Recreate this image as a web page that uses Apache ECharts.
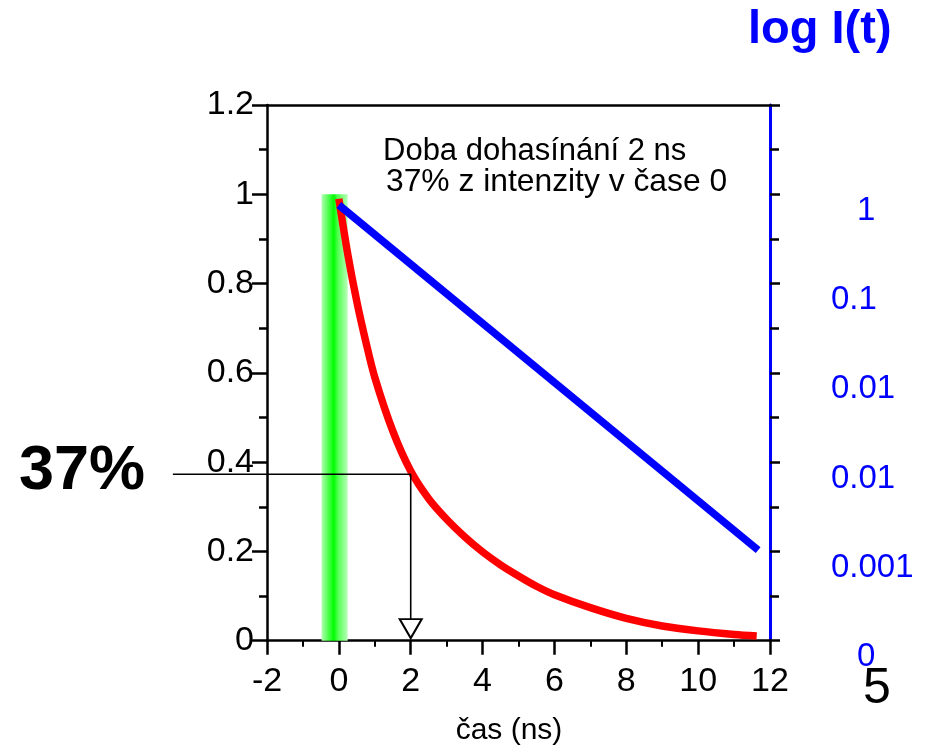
<!DOCTYPE html>
<html>
<head>
<meta charset="utf-8">
<script src="https://cdn.jsdelivr.net/npm/echarts@6/dist/echarts.min.js"></script>
<style>
  html, body { margin: 0; padding: 0; background: #fff; }
  #chart { width: 930px; height: 746px; }
</style>
</head>
<body>
<div id="chart"></div>
<script>
// ---- data ----
const redT = [0, 0.25, 0.5, 0.75, 1.0, 1.5, 2.0, 2.5, 3.0, 3.5, 4.0, 4.5, 5.0, 5.5, 6.0, 7.0, 8.0, 9.0, 10.0, 11.0, 11.63];
const redV = [0.99, 0.865, 0.76, 0.67, 0.59, 0.47, 0.38, 0.318, 0.272, 0.233, 0.199, 0.17, 0.145, 0.122, 0.103, 0.074, 0.05, 0.033, 0.022, 0.014, 0.0105];
const blueT = [0, 11.67];
const blueV = [0.976, 0.203];
const guideX = [-4.62, 2, 2];
const guideY = [0.373, 0.373, 0.048];
const arrowHead = [2, 0.027];
const bandX = [-0.48, 0.245];
const bandY = [0, 1];
const rightTickLabels = ['0', '0.001', '0.01', '0.01', '0.1', '1', ''];
const xAxisName = 'čas (ns)';
const noteLines = ['Doba dohasínání 2 ns', '37% z intenzity v čase 0'];
const bigLabel = '37%';
const rightTitle = 'log I(t)';
const pageNumber = '5';

const FF = '"Liberation Sans", Arial, sans-serif';
const W = 930, GL = 267, GR = 160, GT = 105, GB = 105.3;
const X_MIN = -2, X_MAX = 12;
// a second, invisible grid spanning from the page's left edge so the guide can leave the plot
const X_MIN_WIDE = X_MIN - GL * (X_MAX - X_MIN) / (W - GL - GR);

const chart = echarts.init(document.getElementById('chart'), null, { renderer: 'canvas' });
const pairs = (xs, ys) => xs.map((x, i) => [x, ys[i]]);

const option = {
  animation: false,
  backgroundColor: '#ffffff',
  grid: [
    { left: GL, right: GR, top: GT, bottom: GB, containLabel: false, outerBoundsMode: 'none' },
    { left: 0, right: GR, top: GT, bottom: GB, containLabel: false, outerBoundsMode: 'none' }
  ],
  xAxis: [
    {
      gridIndex: 0, type: 'value', min: X_MIN, max: X_MAX, interval: 2, position: 'bottom',
      axisLine: { show: true, onZero: false, lineStyle: { color: '#000', width: 2.5 } },
      axisTick: { show: true, length: 14, lineStyle: { color: '#000', width: 2.5 } },
      minorTick: { show: true, splitNumber: 2, length: 6, lineStyle: { color: '#000', width: 2 } },
      splitLine: { show: false },
      axisLabel: { margin: 24, fontSize: 34, color: '#000', fontFamily: FF },
      name: xAxisName, nameLocation: 'middle', nameGap: 75,
      nameTextStyle: { fontSize: 30, color: '#000', fontFamily: FF, padding: [0, 19, 0, 0] }
    },
    {
      gridIndex: 0, type: 'value', min: X_MIN, max: X_MAX, position: 'top',
      axisLine: { show: true, onZero: false, lineStyle: { color: '#000', width: 2.5 } },
      axisTick: { show: false }, axisLabel: { show: false }, splitLine: { show: false }
    },
    {
      gridIndex: 1, type: 'value', min: X_MIN_WIDE, max: X_MAX, show: false
    }
  ],
  yAxis: [
    {
      gridIndex: 0, type: 'value', min: 0, max: 1.2, interval: 0.2, position: 'left',
      axisLine: { show: true, onZero: false, lineStyle: { color: '#000', width: 2.5 } },
      axisTick: { show: true, length: 15, lineStyle: { color: '#000', width: 2.5 } },
      minorTick: { show: true, splitNumber: 2, length: 8, lineStyle: { color: '#000', width: 2.5 } },
      splitLine: { show: false },
      axisLabel: { margin: 13, fontSize: 34, color: '#000', fontFamily: FF }
    },
    {
      gridIndex: 0, type: 'value', min: 0, max: 1.2, interval: 0.2, position: 'right',
      axisLine: { show: true, onZero: false, lineStyle: { color: '#0000ff', width: 3 } },
      axisTick: { show: true, length: 10, lineStyle: { color: '#000', width: 2.5 } },
      minorTick: { show: true, splitNumber: 2, length: 9, lineStyle: { color: '#000', width: 2.5 } },
      splitLine: { show: false },
      axisLabel: {
        margin: 61, align: 'left', padding: [33, 0, 0, 0],
        formatter: function (v) {
          const s = rightTickLabels[Math.round(v / 0.2)] || '';
          if (!s) return '';
          return (s.length === 1 ? '{p|' : '{n|') + s + '}';
        },
        rich: {
          n: { color: '#0000ff', fontSize: 33, fontFamily: FF },
          p: { color: '#0000ff', fontSize: 33, fontFamily: FF, padding: [0, 0, 0, 26] }
        }
      }
    },
    {
      gridIndex: 1, type: 'value', min: 0, max: 1.2, show: false
    }
  ],
  series: [
    {
      name: 'I(t)', type: 'line', xAxisIndex: 0, yAxisIndex: 0,
      data: pairs(redT, redV), symbol: 'none', smooth: 0.3,
      lineStyle: { color: '#ff0000', width: 7.5 }, z: 3,
      markArea: {
        silent: true,
        itemStyle: {
          color: new echarts.graphic.LinearGradient(0, 0, 1, 0, [
            { offset: 0, color: '#b0ffb0' },
            { offset: 0.3, color: '#40ff40' },
            { offset: 0.47, color: '#00ff00' },
            { offset: 0.62, color: '#50ff50' },
            { offset: 1, color: '#b8ffb8' }
          ])
        },
        data: [[{ coord: [bandX[0], bandY[0]] }, { coord: [bandX[1], bandY[1]] }]]
      }
    },
    {
      name: 'log I(t)', type: 'line', xAxisIndex: 0, yAxisIndex: 1,
      data: pairs(blueT, blueV), symbol: 'none',
      lineStyle: { color: '#0000ff', width: 7.5 }, z: 3
    },
    {
      name: 'guide', type: 'line', xAxisIndex: 2, yAxisIndex: 2,
      data: pairs(guideX, guideY), symbol: 'none', clip: false, silent: true,
      lineStyle: { color: '#000', width: 1.6 }, z: 4
    },
    {
      name: 'arrow', type: 'scatter', xAxisIndex: 0, yAxisIndex: 0,
      data: [arrowHead], symbol: 'triangle', symbolRotate: 180, symbolSize: [22, 19],
      itemStyle: { color: '#fff', borderColor: '#000', borderWidth: 2, opacity: 1 }, z: 5, silent: true
    }
  ],
  graphic: [
    { type: 'text', left: 383, top: 136, style: { text: noteLines[0], font: '31px ' + FF, fill: '#000' } },
    { type: 'text', left: 386, top: 166, style: { text: noteLines[1], font: '31.8px ' + FF, fill: '#000' } },
    { type: 'text', left: 19, top: 440, style: { text: bigLabel, font: 'bold 63px ' + FF, fill: '#000' } },
    { type: 'text', left: 748, top: 7, style: { text: rightTitle, font: 'bold 47px ' + FF, fill: '#0000ff' } },
    { type: 'text', left: 863, top: 664, style: { text: pageNumber, font: '50px ' + FF, fill: '#000' } }
  ]
};
chart.setOption(option);
</script>
</body>
</html>
